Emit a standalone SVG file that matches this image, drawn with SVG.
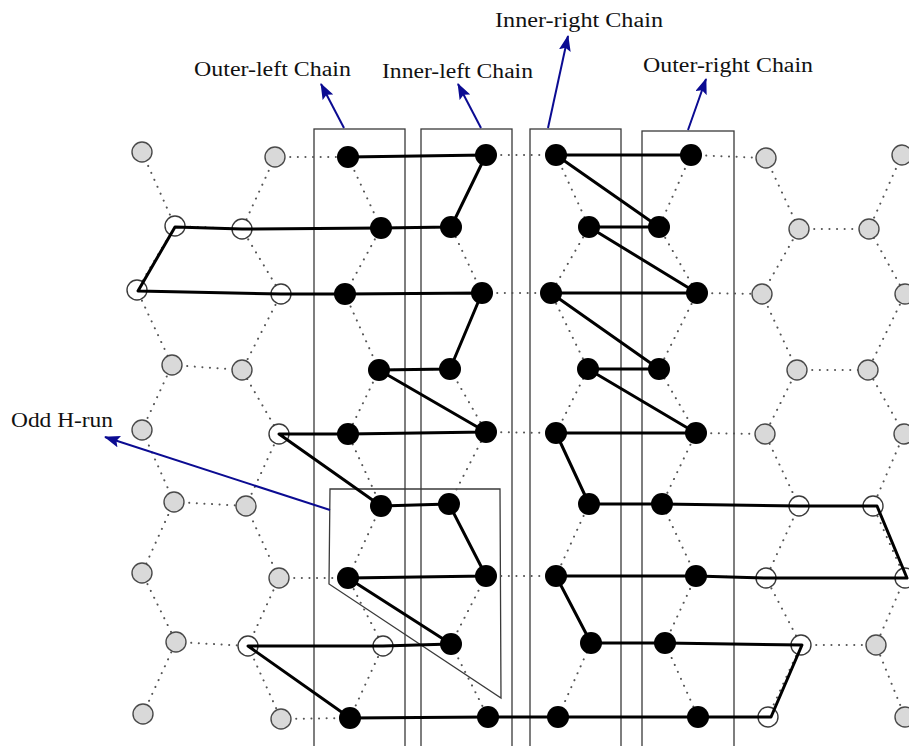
<svg xmlns="http://www.w3.org/2000/svg" width="909" height="746" viewBox="0 0 909 746">
<style>
.lat{stroke:#555;stroke-width:2;stroke-dasharray:0.1 7.5;fill:none;stroke-linecap:round}
.box{fill:none;stroke:#3a3a3a;stroke-width:1.3}
.path{fill:none;stroke:#000;stroke-width:3;stroke-linejoin:round}
.b{fill:#000}
.g{fill:#d9d9d9;stroke:#4a4a4a;stroke-width:1.4}
.o{fill:#fff;stroke:#3a3a3a;stroke-width:1.4}
.arr{stroke:#0b0b92;stroke-width:2;fill:none}
.lbl{font-family:"Liberation Serif","DejaVu Serif",serif;font-size:20px;fill:#111}
</style>
<defs>
<marker id="ah" viewBox="0 0 16 12" refX="15" refY="6" markerWidth="16" markerHeight="12" markerUnits="userSpaceOnUse" orient="auto">
<path d="M0,0 L16,6 L0,12 L3,6 z" fill="#0b0b92"/>
</marker>
</defs>
<g id="boxes">
<rect id="box-outer-left" class="box" x="314" y="129" width="91" height="620"/>
<rect id="box-inner-left" class="box" x="421" y="129" width="91" height="620"/>
<rect id="box-inner-right" class="box" x="530" y="129" width="91" height="620"/>
<rect id="box-outer-right" class="box" x="642" y="131" width="92" height="620"/>
<polygon id="box-odd-h-run" class="box" points="330,489 500,489 501,698 329,584"/>
</g>
<g id="connectors">
<g id="lattice">
<polyline class="lat" points="142,152 175,226 137,290 172,365 142,430 174,502 142,573 176,642 143,714"/>
<polyline class="lat" points="275,157 242,229 281,294 242,370 279,434 246,506 279,578 248,646 281,719"/>
<polyline class="lat" points="348,157 381,228 345,294 379,370 348,434 381,506 348,578 383,646 350,718"/>
<polyline class="lat" points="486,155 451,227 482,293 450,369 486,432 449,504 486,576 451,644 488,717"/>
<polyline class="lat" points="556,155 589,227 551,293 588,369 556,433 589,504 556,576 591,643 558,717"/>
<polyline class="lat" points="691,155 659,227 697,293 659,369 696,433 662,504 696,576 665,643 698,717"/>
<polyline class="lat" points="766,158 799,229 762,294 797,370 765,434 799,506 766,578 801,645 768,717"/>
<polyline class="lat" points="902,155 869,229 905,294 868,370 904,434 873,506 905,578 876,645 905,717"/>
<line class="lat" x1="275" y1="157" x2="348" y2="157"/><line class="lat" x1="486" y1="155" x2="556" y2="155"/><line class="lat" x1="691" y1="155" x2="766" y2="158"/>
<line class="lat" x1="281" y1="294" x2="345" y2="294"/><line class="lat" x1="482" y1="293" x2="551" y2="293"/><line class="lat" x1="697" y1="293" x2="762" y2="294"/>
<line class="lat" x1="279" y1="434" x2="348" y2="434"/><line class="lat" x1="486" y1="432" x2="556" y2="433"/><line class="lat" x1="696" y1="433" x2="765" y2="434"/>
<line class="lat" x1="279" y1="578" x2="348" y2="578"/><line class="lat" x1="486" y1="576" x2="556" y2="576"/><line class="lat" x1="696" y1="576" x2="766" y2="578"/>
<line class="lat" x1="281" y1="719" x2="350" y2="718"/><line class="lat" x1="488" y1="717" x2="558" y2="717"/><line class="lat" x1="698" y1="717" x2="768" y2="717"/>
<line class="lat" x1="175" y1="226" x2="242" y2="229"/><line class="lat" x1="381" y1="228" x2="451" y2="227"/><line class="lat" x1="589" y1="227" x2="659" y2="227"/><line class="lat" x1="799" y1="229" x2="869" y2="229"/>
<line class="lat" x1="172" y1="365" x2="242" y2="370"/><line class="lat" x1="379" y1="370" x2="450" y2="369"/><line class="lat" x1="588" y1="369" x2="659" y2="369"/><line class="lat" x1="797" y1="370" x2="868" y2="370"/>
<line class="lat" x1="174" y1="502" x2="246" y2="506"/><line class="lat" x1="381" y1="506" x2="449" y2="504"/><line class="lat" x1="589" y1="504" x2="662" y2="504"/><line class="lat" x1="799" y1="506" x2="873" y2="506"/>
<line class="lat" x1="176" y1="642" x2="248" y2="646"/><line class="lat" x1="383" y1="646" x2="451" y2="644"/><line class="lat" x1="591" y1="643" x2="665" y2="643"/><line class="lat" x1="801" y1="645" x2="876" y2="645"/>
</g>
</g>
<g id="nodes-light">
<g id="n1A"><circle class="g" cx="142" cy="152" r="10"/></g>
<g id="n1B"><circle class="g" cx="275" cy="157" r="10"/></g>
<g id="n1G"><circle class="g" cx="766" cy="158" r="10"/></g>
<g id="n1H"><circle class="g" cx="902" cy="155" r="10"/></g>
<g id="n2A"><circle class="o" cx="175" cy="226" r="10"/></g>
<g id="n2B"><circle class="o" cx="242" cy="229" r="10"/></g>
<g id="n2G"><circle class="g" cx="799" cy="229" r="10"/></g>
<g id="n2H"><circle class="g" cx="869" cy="229" r="10"/></g>
<g id="n3A"><circle class="o" cx="137" cy="290" r="10"/></g>
<g id="n3B"><circle class="o" cx="281" cy="294" r="10"/></g>
<g id="n3G"><circle class="g" cx="762" cy="294" r="10"/></g>
<g id="n3H"><circle class="g" cx="905" cy="294" r="10"/></g>
<g id="n4A"><circle class="g" cx="172" cy="365" r="10"/></g>
<g id="n4B"><circle class="g" cx="242" cy="370" r="10"/></g>
<g id="n4G"><circle class="g" cx="797" cy="370" r="10"/></g>
<g id="n4H"><circle class="g" cx="868" cy="370" r="10"/></g>
<g id="n5A"><circle class="g" cx="142" cy="430" r="10"/></g>
<g id="n5B"><circle class="o" cx="279" cy="434" r="10"/></g>
<g id="n5G"><circle class="g" cx="765" cy="434" r="10"/></g>
<g id="n5H"><circle class="g" cx="904" cy="434" r="10"/></g>
<g id="n6A"><circle class="g" cx="174" cy="502" r="10"/></g>
<g id="n6B"><circle class="g" cx="246" cy="506" r="10"/></g>
<g id="n6G"><circle class="o" cx="799" cy="506" r="10"/></g>
<g id="n6H"><circle class="o" cx="873" cy="506" r="10"/></g>
<g id="n7A"><circle class="g" cx="142" cy="573" r="10"/></g>
<g id="n7B"><circle class="g" cx="279" cy="578" r="10"/></g>
<g id="n7G"><circle class="o" cx="766" cy="578" r="10"/></g>
<g id="n7H"><circle class="o" cx="905" cy="578" r="10"/></g>
<g id="n8A"><circle class="g" cx="176" cy="642" r="10"/></g>
<g id="n8B"><circle class="o" cx="248" cy="646" r="10"/></g>
<g id="n8C"><circle class="o" cx="383" cy="646" r="10"/></g>
<g id="n8G"><circle class="o" cx="801" cy="645" r="10"/></g>
<g id="n8H"><circle class="g" cx="876" cy="645" r="10"/></g>
<g id="n9A"><circle class="g" cx="143" cy="714" r="10"/></g>
<g id="n9B"><circle class="g" cx="281" cy="719" r="10"/></g>
<g id="n9G"><circle class="o" cx="768" cy="717" r="10"/></g>
<g id="n9H"><circle class="g" cx="905" cy="717" r="10"/></g>
</g>
<g id="chain-path">
<polyline class="path" points="691,155 556,155 659,227 589,227 697,293 551,293 659,369 588,369 696,433 556,433 589,504 662,504 799,506 877,506 907,578 766,578 696,576 556,576 591,643 665,643 802,645 771,717 698,717 558,717 488,717 350,718 248,646 383,646 451,644 348,578 486,576 449,504 381,506 279,434 348,434 486,432 379,370 450,369 482,293 345,294 281,294 138,291 175,227 242,229 381,228 451,227 486,155 348,157"/>
</g>
<g id="nodes-chain">
<g id="n1C"><circle class="b" cx="348" cy="157" r="11"/></g>
<g id="n1D"><circle class="b" cx="486" cy="155" r="11"/></g>
<g id="n1E"><circle class="b" cx="556" cy="155" r="11"/></g>
<g id="n1F"><circle class="b" cx="691" cy="155" r="11"/></g>
<g id="n2C"><circle class="b" cx="381" cy="228" r="11"/></g>
<g id="n2D"><circle class="b" cx="451" cy="227" r="11"/></g>
<g id="n2E"><circle class="b" cx="589" cy="227" r="11"/></g>
<g id="n2F"><circle class="b" cx="659" cy="227" r="11"/></g>
<g id="n3C"><circle class="b" cx="345" cy="294" r="11"/></g>
<g id="n3D"><circle class="b" cx="482" cy="293" r="11"/></g>
<g id="n3E"><circle class="b" cx="551" cy="293" r="11"/></g>
<g id="n3F"><circle class="b" cx="697" cy="293" r="11"/></g>
<g id="n4C"><circle class="b" cx="379" cy="370" r="11"/></g>
<g id="n4D"><circle class="b" cx="450" cy="369" r="11"/></g>
<g id="n4E"><circle class="b" cx="588" cy="369" r="11"/></g>
<g id="n4F"><circle class="b" cx="659" cy="369" r="11"/></g>
<g id="n5C"><circle class="b" cx="348" cy="434" r="11"/></g>
<g id="n5D"><circle class="b" cx="486" cy="432" r="11"/></g>
<g id="n5E"><circle class="b" cx="556" cy="433" r="11"/></g>
<g id="n5F"><circle class="b" cx="696" cy="433" r="11"/></g>
<g id="n6C"><circle class="b" cx="381" cy="506" r="11"/></g>
<g id="n6D"><circle class="b" cx="449" cy="504" r="11"/></g>
<g id="n6E"><circle class="b" cx="589" cy="504" r="11"/></g>
<g id="n6F"><circle class="b" cx="662" cy="504" r="11"/></g>
<g id="n7C"><circle class="b" cx="348" cy="578" r="11"/></g>
<g id="n7D"><circle class="b" cx="486" cy="576" r="11"/></g>
<g id="n7E"><circle class="b" cx="556" cy="576" r="11"/></g>
<g id="n7F"><circle class="b" cx="696" cy="576" r="11"/></g>
<g id="n8D"><circle class="b" cx="451" cy="644" r="11"/></g>
<g id="n8E"><circle class="b" cx="591" cy="643" r="11"/></g>
<g id="n8F"><circle class="b" cx="665" cy="643" r="11"/></g>
<g id="n9C"><circle class="b" cx="350" cy="718" r="11"/></g>
<g id="n9D"><circle class="b" cx="488" cy="717" r="11"/></g>
<g id="n9E"><circle class="b" cx="558" cy="717" r="11"/></g>
<g id="n9F"><circle class="b" cx="698" cy="717" r="11"/></g>
</g>
<g id="annotations">
<line class="arr" x1="344" y1="128" x2="321" y2="84" marker-end="url(#ah)"/>
<line class="arr" x1="481" y1="128" x2="458" y2="84" marker-end="url(#ah)"/>
<line class="arr" x1="548" y1="128" x2="568" y2="36" marker-end="url(#ah)"/>
<line class="arr" x1="688" y1="130" x2="706" y2="79" marker-end="url(#ah)"/>
<line class="arr" x1="330" y1="510" x2="105" y2="437" marker-end="url(#ah)"/>
<text class="lbl" x="194" y="76" textLength="157" lengthAdjust="spacingAndGlyphs">Outer-left Chain</text>
<text class="lbl" x="382" y="78" textLength="151" lengthAdjust="spacingAndGlyphs">Inner-left Chain</text>
<text class="lbl" x="495" y="27" textLength="168" lengthAdjust="spacingAndGlyphs">Inner-right Chain</text>
<text class="lbl" x="643" y="72" textLength="170" lengthAdjust="spacingAndGlyphs">Outer-right Chain</text>
<text class="lbl" x="11" y="427" textLength="102" lengthAdjust="spacingAndGlyphs">Odd H-run</text>
</g>
</svg>
